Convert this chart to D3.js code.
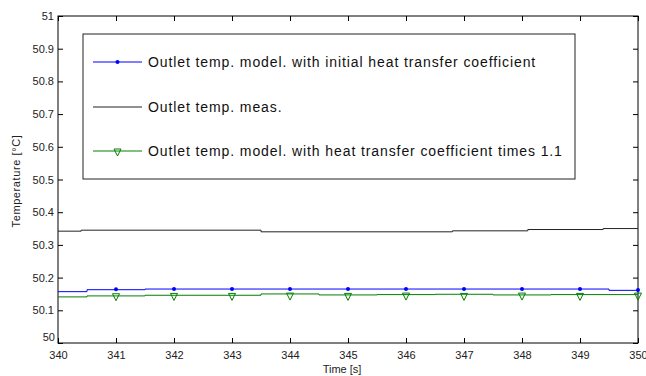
<!DOCTYPE html>
<html>
<head>
<meta charset="utf-8">
<script src="https://cdn.jsdelivr.net/npm/d3@7"></script>
<style>
  body { margin: 0; background: #fff; }
  text { font-family: "Liberation Sans", Arial, sans-serif; }
</style>
</head>
<body>
<script>
// values (step-like traces)
var measTime  = [340, 340.4, 343.5, 346.8, 348.1, 349.4, 350];
var measTemp  = [50.342, 50.345, 50.340, 50.343, 50.347, 50.350, 50.350];

var initTime  = [340, 340.5, 341.5, 349.5, 350];
var initTemp  = [50.157, 50.163, 50.165, 50.161, 50.161];

var timesTime = [340, 340.5, 341.5, 342.5, 343.5, 344.5, 345.5, 346.5, 347.5, 348.5, 349.5, 350];
var timesTemp = [50.141, 50.144, 50.146, 50.146, 50.150, 50.147, 50.148, 50.149, 50.147, 50.148, 50.148, 50.148];

var markTime      = [341, 342, 343, 344, 345, 346, 347, 348, 349, 350];
var initMarkTemp  = [50.164, 50.165, 50.165, 50.165, 50.165, 50.165, 50.165, 50.165, 50.165, 50.162];
var timesMarkTemp = [50.140, 50.141, 50.141, 50.142, 50.141, 50.142, 50.141, 50.142, 50.141, 50.142];

var xTicks = d3.range(340, 351, 1);
var yTicks = d3.range(0, 11).map(function(i) { return 50 + i / 10; });

var legendLabels = [
  "Outlet temp. model. with initial heat transfer coefficient",
  "Outlet temp. meas.",
  "Outlet temp. model. with heat transfer coefficient times 1.1"
];

var margin = {top: 16, bottom: 33, left: 58, right: 8};
var width = 646 - margin.left - margin.right,
    height = 376 - margin.top - margin.bottom;

var svg = d3.select("body")
            .append("svg")
              .attr("width", 646)
              .attr("height", 376);

var g = svg.append("g")
           .attr("transform", "translate(" + margin.left + "," + margin.top + ")");

var x = d3.scaleLinear().domain([340, 350]).range([0, width]);
var y = d3.scaleLinear().domain([50, 51]).range([height, 0]);

// frame
g.append("rect")
  .attr("x", 0).attr("y", 0)
  .attr("width", width).attr("height", height)
  .attr("fill", "none").attr("stroke", "#000").attr("stroke-width", 1);

// axes with inward ticks
var xAxis = g.append("g").attr("transform", "translate(0," + height + ")")
  .call(d3.axisBottom(x).tickValues(xTicks).tickSize(-5).tickPadding(8).tickFormat(d3.format("d")));
var xTop = g.append("g")
  .call(d3.axisTop(x).tickValues(xTicks).tickSize(-5).tickFormat(""));
var yAxis = g.append("g")
  .call(d3.axisLeft(y).tickValues(yTicks).tickSize(-5).tickPadding(4)
    .tickFormat(function(d) { return d3.format("")(+d.toFixed(1)); }));
var yRight = g.append("g").attr("transform", "translate(" + width + ",0)")
  .call(d3.axisRight(y).tickValues(yTicks).tickSize(-5).tickFormat(""));

[xAxis, xTop, yAxis, yRight].forEach(function(a) {
  a.select(".domain").remove();
  a.selectAll("line").attr("stroke", "#000");
  a.selectAll("text").attr("font-size", 11).attr("fill", "#222")
    .attr("font-family", "'Liberation Sans', Arial, sans-serif");
});
// matlab nudges the corner label
yAxis.selectAll(".tick").filter(function(d) { return d === 50; })
  .select("text").attr("dy", "-0.2em").attr("x", -3);

// traces
var line = d3.line().curve(d3.curveStepAfter)
  .x(function(d) { return x(d[0]); })
  .y(function(d) { return y(d[1]); });

g.append("path").datum(d3.zip(measTime, measTemp))
  .attr("d", line).attr("fill", "none").attr("stroke", "#222").attr("stroke-width", 1);
g.append("path").datum(d3.zip(initTime, initTemp))
  .attr("d", line).attr("fill", "none").attr("stroke", "#0000ff").attr("stroke-width", 1);
g.append("path").datum(d3.zip(timesTime, timesTemp))
  .attr("d", line).attr("fill", "none").attr("stroke", "#008000").attr("stroke-width", 1);

var tri = "M-3.5,-3.5L3.5,-3.5L0,3.5Z";

g.selectAll(".tri").data(d3.zip(markTime, timesMarkTemp))
  .enter().append("path").attr("class", "tri")
  .attr("d", tri)
  .attr("transform", function(d) { return "translate(" + x(d[0]) + "," + y(d[1]) + ")"; })
  .attr("fill", "none").attr("stroke", "#008000").attr("stroke-width", 1);

g.selectAll(".dot").data(d3.zip(markTime, initMarkTemp))
  .enter().append("circle").attr("class", "dot")
  .attr("cx", function(d) { return x(d[0]); })
  .attr("cy", function(d) { return y(d[1]); })
  .attr("r", 2).attr("fill", "#0000ff");

// axis labels
svg.append("text").attr("x", 342).attr("y", 373)
  .attr("text-anchor", "middle").attr("font-size", 11).attr("fill", "#222")
  .text("Time [s]");
svg.append("text")
  .attr("transform", "translate(20,181) rotate(-90)")
  .attr("text-anchor", "middle").attr("font-size", 11).attr("fill", "#222")
  .attr("letter-spacing", 0.6)
  .text("Temperature [\u00b0C]");

// legend
var leg = svg.append("g").attr("transform", "translate(83,34)");
leg.append("rect").attr("width", 492).attr("height", 145)
  .attr("fill", "#fff").attr("stroke", "#222").attr("stroke-width", 1);

var legColors = ["#0000ff", "#222", "#008000"];
var legY = [28, 73, 117];

var item = leg.selectAll(".item").data(legendLabels).enter()
  .append("g").attr("class", "item")
  .attr("transform", function(d, i) { return "translate(0," + legY[i] + ")"; });

item.append("line").attr("x1", 10).attr("x2", 59)
  .attr("stroke", function(d, i) { return legColors[i]; }).attr("stroke-width", 1);
item.append("text").attr("x", 65).attr("dy", "0.35em")
  .attr("font-size", 14).attr("letter-spacing", 0.9).attr("fill", "#111")
  .text(function(d) { return d; });

item.filter(function(d, i) { return i === 0; })
  .append("circle").attr("cx", 34.5).attr("r", 2).attr("fill", "#0000ff");
item.filter(function(d, i) { return i === 2; })
  .append("path").attr("d", tri).attr("transform", "translate(34.5,1.5)")
  .attr("fill", "none").attr("stroke", "#008000");
</script>
</body>
</html>
